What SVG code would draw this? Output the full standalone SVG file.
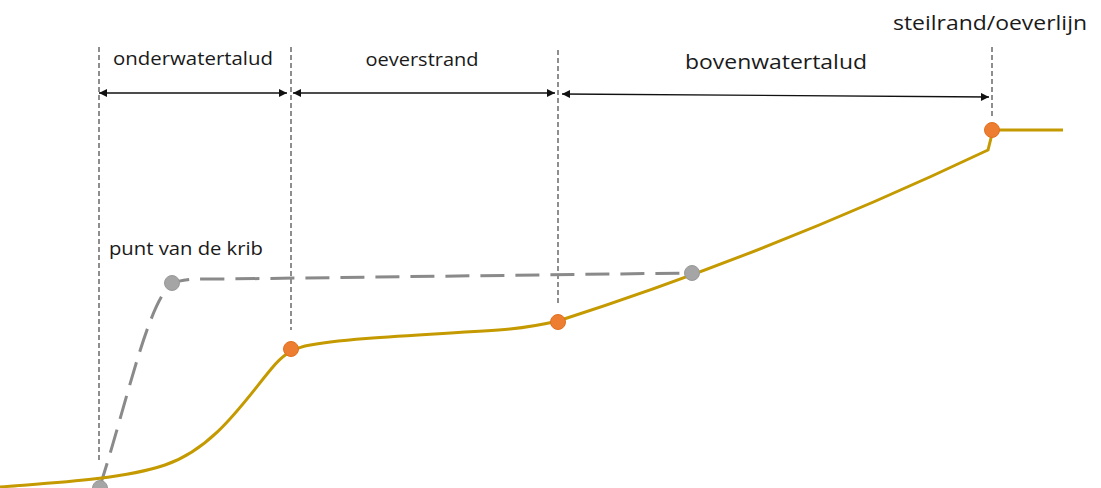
<svg xmlns="http://www.w3.org/2000/svg" width="1101" height="488" viewBox="0 0 1101 488">
<style>
.guide{stroke:#444;stroke-width:1.2;stroke-dasharray:5 3;fill:none}
.dim{stroke:#111;stroke-width:1.3;fill:none;marker-start:url(#ah);marker-end:url(#ah)}
.lbl{font-family:"Open Sans","Liberation Sans",sans-serif;fill:#1a1a1a}
.profile{stroke:#c49a00;stroke-width:3;fill:none}
.krib{stroke:#8a8a8a;stroke-width:3;fill:none;stroke-dasharray:24 11}
.pt-o{fill:#ed7d31;stroke:#e07020;stroke-width:1}
.pt-g{fill:#a5a5a5;stroke:#999;stroke-width:1}
</style>
<defs>
<marker id="ah" viewBox="0 0 10 10" refX="10" refY="5" markerWidth="10" markerHeight="8" markerUnits="userSpaceOnUse" orient="auto-start-reverse">
<path d="M0,0 L10,5 L0,10 z" fill="#111"/>
</marker>
</defs>
<rect width="1101" height="488" fill="#fff"/>
<g id="guides">
<line class="guide" x1="99" y1="47" x2="99" y2="463"/>
<line class="guide" x1="291" y1="47" x2="291" y2="330"/>
<line class="guide" x1="558" y1="50" x2="558" y2="306"/>
<line class="guide" x1="992" y1="47" x2="992" y2="117"/>
</g>
<g id="connectors">
<line class="dim" x1="99" y1="93" x2="287" y2="93"/>
<line class="dim" x1="293" y1="93" x2="555" y2="93"/>
<line class="dim" x1="562" y1="94" x2="989" y2="97"/>
<path class="krib" d="M100,486 C125,410 148,300 172,284 C182,278 200,279 225,279 L692,273"/>
<path class="profile" d="M0,487 C50,483 120,480 165,465 C215,448 245,400 272,368 C282,356 290,350 305,346 C350,337 450,334 510,329 C530,327 545,324 558,321 Q773,252 988,150 L991,138 L992,130 L1063,130"/>
</g>
<g id="labels">
<text class="lbl" x="193" y="65" font-size="18" text-anchor="middle" textLength="160" lengthAdjust="spacingAndGlyphs">onderwatertalud</text>
<text class="lbl" x="422" y="66" font-size="18" text-anchor="middle" textLength="113" lengthAdjust="spacingAndGlyphs">oeverstrand</text>
<text class="lbl" x="776" y="69" font-size="20" text-anchor="middle" textLength="182" lengthAdjust="spacingAndGlyphs">bovenwatertalud</text>
<text class="lbl" x="990" y="30" font-size="20" text-anchor="middle" textLength="194" lengthAdjust="spacingAndGlyphs">steilrand/oeverlijn</text>
<text class="lbl" x="186" y="255" font-size="18" text-anchor="middle" textLength="154" lengthAdjust="spacingAndGlyphs">punt van de krib</text>
</g>
<g id="node-krib-bottom"><circle class="pt-g" cx="100" cy="488" r="7.5"/></g>
<g id="node-krib-punt"><circle class="pt-g" cx="172" cy="283" r="7.5"/></g>
<g id="node-krib-end"><circle class="pt-g" cx="692" cy="273" r="7.5"/></g>
<g id="node-onderwater"><circle class="pt-o" cx="291" cy="349" r="7.5"/></g>
<g id="node-oeverstrand"><circle class="pt-o" cx="558" cy="322" r="7.5"/></g>
<g id="node-steilrand"><circle class="pt-o" cx="992" cy="130" r="7.5"/></g>
</svg>
